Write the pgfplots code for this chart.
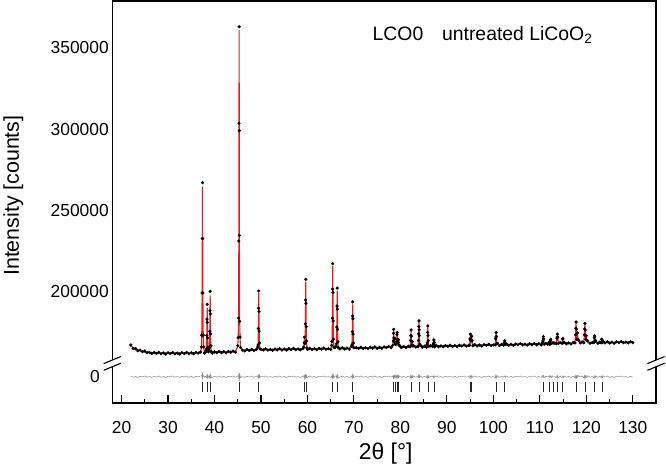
\documentclass[border=0pt]{standalone}
\usepackage{fontspec}
\setmainfont{Liberation Sans}
\usepackage{pgfplots}
\usepackage{pgfplotstable}
\pgfplotsset{compat=1.18}
\definecolor{calcred}{RGB}{222,32,28}
\definecolor{diffgray}{RGB}{140,140,140}

% x = 2theta, calc = calculated profile, diff = observed - calculated
\pgfplotstableread{
x calc diff
22.0 166500 450
22.5 165300 -380
23.0 164500 200
23.5 163900 -500
24.0 163400 350
24.5 163000 -150
25.0 162700 480
25.5 162500 -300
26.0 162300 100
26.5 162200 -450
27.0 162100 300
27.5 162050 -250
28.0 162000 450
28.5 161950 -380
29.0 161900 200
29.5 161850 -500
30.0 161800 350
30.5 161800 -150
31.0 161800 480
31.5 161800 -300
32.0 161850 100
32.5 161850 -450
33.0 161900 300
33.5 161900 -250
34.0 161950 450
34.5 161950 -380
35.0 162000 200
35.5 162000 -500
36.0 162050 350
36.5 162100 -150
37.0 162150 480
37.18 165300 500
37.26 172400 600
37.34 198000 1000
37.38 233800 -1300
37.42 264500 2500
37.46 233800 -1300
37.50 198000 1000
37.58 172400 600
37.66 165300 500
37.85 162250 -300
38.0 162250 100
38.19 163130 470
38.27 165070 -470
38.35 172000 800
38.39 181700 1200
38.43 190000 2000
38.47 181700 -900
38.51 172000 -700
38.59 165070 530
38.67 163130 -430
38.83 163360 440
38.91 165820 -620
38.99 174620 780
39.03 186940 1060
39.07 197500 2500
39.11 186940 -840
39.15 174620 -820
39.23 165820 680
39.31 163360 -560
39.5 162350 -450
40.0 162400 300
40.5 162450 -250
41.0 162500 450
41.5 162550 -380
42.0 162600 200
42.5 162600 -500
43.0 162650 350
43.5 162700 -150
44.0 162700 480
44.5 162800 -300
45.00 166000 500
45.10 170900 600
45.18 182800 700
45.24 232300 -1300
45.27 301600 2000
45.30 361000 2000
45.33 301600 -2600
45.36 232300 2200
45.42 182800 -1300
45.50 170900 900
45.60 166000 -600
46.0 163700 100
46.5 163750 -450
47.0 163800 300
47.5 163800 -250
48.0 163850 450
48.5 163900 -380
49.0 163950 200
49.29 165050 550
49.37 167500 -600
49.45 176250 850
49.49 188500 1100
49.53 199000 1200
49.57 188500 -900
49.61 176250 -750
49.69 167500 700
49.77 165050 -550
50.0 164000 350
50.5 164050 -150
51.0 164050 480
51.5 164100 -300
52.0 164100 100
52.5 164150 -450
53.0 164150 300
53.5 164200 -250
54.0 164200 450
54.5 164250 -380
55.0 164250 200
55.5 164300 -500
56.0 164300 350
56.5 164300 -150
57.0 164350 480
57.5 164350 -300
58.0 164400 100
58.5 164400 -450
59.0 164400 300
59.20 165000 600
59.30 169000 -800
59.35 171000 800
59.42 168000 600
59.48 168600 -700
59.56 179000 1000
59.60 193500 1200
59.64 206000 1400
59.68 193500 -900
59.72 179000 -800
59.80 168600 700
59.88 165650 -550
60.0 164450 -250
60.5 164450 450
61.0 164500 -380
61.5 164500 200
62.0 164500 -500
62.5 164550 350
63.0 164550 -150
63.5 164600 480
64.0 164600 -300
64.5 164600 100
65.0 164650 -450
65.21 166200 500
65.29 169800 -700
65.37 182500 1000
65.41 200300 1100
65.45 215500 1500
65.49 200300 -1000
65.53 182500 -800
65.61 169800 700
65.69 166200 -600
65.90 165000 300
66.16 165800 500
66.24 168300 -600
66.32 177200 800
66.36 189800 1100
66.40 200500 1500
66.44 189800 -800
66.48 177200 -700
66.56 168300 600
66.64 165800 -500
67.0 164800 -250
67.5 164800 450
68.0 164850 -380
68.5 164850 200
69.0 164900 -500
69.50 165700 500
69.58 167600 -600
69.66 174400 800
69.70 183900 900
69.74 192000 1500
69.78 183900 -800
69.82 174400 -700
69.90 167600 600
69.98 165700 -500
70.5 164950 350
71.0 165000 -150
71.5 165050 480
72.0 165100 -300
72.5 165150 100
73.0 165200 -450
73.5 165200 300
74.0 165250 -250
74.5 165300 450
75.0 165300 -380
75.5 165350 200
76.0 165400 -500
76.5 165450 350
77.0 165500 -150
77.5 165550 480
78.0 165600 -300
78.35 166300 500
78.45 170000 -600
78.51 173500 700
78.55 176000 600
78.60 172000 -700
78.68 168500 600
78.80 169000 -600
78.85 170000 700
78.92 168000 -600
79.05 167000 600
79.20 169500 -600
79.26 172500 800
79.30 174000 600
79.35 171000 -700
79.45 168000 700
79.55 169000 -500
79.60 169500 700
79.68 167500 -500
79.85 166000 450
80.2 165750 -380
80.7 165800 200
81.2 165800 -500
81.7 165850 350
82.10 166400 -600
82.20 169000 700
82.26 173500 -700
82.30 175500 700
82.35 171500 700
82.45 167500 -600
82.58 168300 700
82.65 167000 -600
82.85 166000 480
83.3 166000 -300
83.7 166000 100
83.80 166500 -500
83.88 169000 700
83.94 174500 -700
83.97 177500 800
84.00 181000 800
84.03 177000 -700
84.07 172000 700
84.15 168000 -600
84.30 166300 450
84.7 166000 -380
85.2 166050 200
85.6 166050 -500
85.72 166600 500
85.80 169000 -600
85.86 174000 700
85.90 178000 700
85.94 173500 -700
86.00 169000 600
86.12 166700 -600
86.5 166100 350
86.9 166150 -150
87.08 166800 500
87.16 168500 -600
87.20 169500 500
87.26 168000 600
87.38 166400 -600
87.7 166200 480
88.2 166200 -300
88.7 166250 100
89.2 166300 -450
89.7 166300 300
90.2 166350 -250
90.7 166350 450
91.2 166400 -380
91.7 166400 200
92.2 166450 -500
92.7 166450 350
93.2 166500 -150
93.7 166500 480
94.2 166550 -300
94.7 166600 100
94.90 167300 -600
94.98 170000 700
95.05 173000 600
95.12 170500 -600
95.20 169000 600
95.28 170500 -600
95.35 171800 500
95.43 169000 600
95.60 167000 -600
96.0 166700 450
96.5 166700 -380
97.0 166750 200
97.5 166800 -500
98.0 166800 350
98.5 166850 -150
99.0 166850 480
99.5 166900 -300
100.0 166900 100
100.40 167600 -600
100.50 170000 700
100.56 172500 -700
100.60 174000 600
100.65 171500 700
100.75 168500 -600
100.90 167300 600
101.3 167000 -450
101.8 167050 300
102.2 167100 -250
102.35 167800 500
102.45 169000 500
102.55 167800 -600
102.8 167100 450
103.3 167150 -380
103.8 167150 200
104.3 167200 -500
104.8 167200 350
105.3 167250 -150
105.8 167300 480
106.3 167300 -300
106.8 167350 100
107.3 167350 -450
107.8 167400 300
108.3 167400 -250
108.8 167450 450
109.3 167450 -380
109.8 167500 200
110.3 167500 -500
110.60 168000 600
110.70 170500 -600
110.75 171500 600
110.82 170000 700
110.95 168000 -600
111.3 167600 350
111.7 167600 -150
112.00 168000 600
112.15 167900 -600
112.28 169000 700
112.35 170000 500
112.45 168500 -600
112.70 167800 480
112.95 168500 -300
113.20 168000 100
113.55 168300 -600
113.68 170500 700
113.76 172500 -600
113.80 173000 600
113.86 171000 700
114.00 168500 -600
114.4 168000 450
114.80 168500 -600
114.90 170000 600
114.95 170500 500
115.05 169000 -600
115.25 168100 450
115.7 168000 -380
116.2 168050 200
116.7 168100 -500
117.2 168100 350
117.55 168800 -600
117.68 172500 700
117.75 178000 -700
117.80 180500 600
117.86 176000 700
117.94 171000 -600
118.05 173500 700
118.10 174000 500
118.18 171000 -600
118.35 169000 700
118.7 168300 -150
119.1 168350 480
119.45 169000 -600
119.58 172500 700
119.65 177500 -700
119.70 179500 700
119.76 175500 700
119.85 171000 -600
119.98 172000 600
120.08 170500 -600
120.30 168800 600
120.8 168300 -300
121.3 168350 100
121.62 169000 -600
121.72 170800 600
121.80 172000 500
121.88 170500 -600
122.05 168700 600
122.5 168400 -450
122.9 168400 300
123.20 168900 -600
123.30 169800 600
123.35 170000 500
123.45 169000 -600
123.65 168500 600
124.0 168450 -250
124.5 168450 450
125.0 168500 -380
125.5 168500 200
126.0 168500 -500
126.5 168550 350
127.0 168550 -150
127.5 168600 480
128.0 168600 -300
128.5 168600 100
129.0 168650 -450
129.5 168650 300
130.0 168650 -250
}\data

\pgfplotstableread{
x y
37.42 141010
38.43 141010
39.07 141010
45.30 141010
49.53 141010
59.40 141010
59.70 141010
65.45 141010
66.40 141010
69.74 141010
78.45 141010
78.80 141010
79.25 141010
79.55 141010
82.30 141010
84.00 141010
85.90 141010
87.20 141010
95.05 141010
95.35 141010
100.60 141010
102.45 141010
110.70 141010
112.00 141010
112.95 141010
113.75 141010
113.85 141010
114.90 141010
117.80 141010
119.70 141010
121.80 141010
123.35 141010
}\bragg

\begin{document}
\begin{tikzpicture}
\path (-111bp,-69bp) rectangle (555bp,404bp);
\begin{axis}[
  at={(0,0)}, anchor=south west,
  scale only axis, width=545bp, height=403bp,
  xmin=18, xmax=135, ymin=131140, ymax=378900,
  axis line style={line width=1.2bp},
  scaled y ticks=false,
  xtick={20,30,...,130}, minor xtick={25,35,...,125},
  xtick pos=left, ytick pos=left,
  tick align=inside,
  major tick length=8bp, minor tick length=4bp,
  every tick/.style={black, line width=1.1bp},
  ytick={200000,250000,300000,350000},
  yticklabels={200000,250000,300000,350000},
  extra y ticks={147400}, extra y tick labels={0},
  extra y tick style={yticklabel style={xshift=-9bp}},
  ytick style={draw=none},
  tick label style={font=\fontsize{17.5}{20}\selectfont},
  xticklabel style={yshift=-15bp},
  /pgf/number format/assume math mode=true,
  xlabel={2θ [°]}, ylabel={Intensity [counts]},
  xlabel style={font=\fontsize{23}{27}\selectfont, at={(axis description cs:0.503,-0.1266)}, anchor=center},
  ylabel style={font=\fontsize{21.5}{25}\selectfont, at={(axis description cs:-0.182,0.516)}, anchor=center},
]
\addplot[only marks, mark=*, mark size=1.4bp, black] table[x=x, y expr=\thisrow{calc}+\thisrow{diff}]{\data};
\addplot[calcred, line width=1.1bp] table[x=x, y=calc]{\data};
\addplot[diffgray, line width=0.5bp] table[x=x, y expr=\thisrow{diff}+147400]{\data};
\addplot[only marks, mark=|, mark size=4.6bp, black!85, line width=0.6bp] table[x=x, y=y]{\bragg};
\coordinate (BL) at (axis cs:18,155580);
\coordinate (BR) at (axis cs:135,155580);
\node[anchor=base west, font=\fontsize{19.5}{22}\selectfont, inner sep=0pt] at (axis cs:74.0,354500) {LCO0\hspace{18.8bp}untreated LiCoO\textsubscript{2}};
\end{axis}
\foreach \c in {BL,BR}{
  \fill[white] ([shift={(-2.5bp,-3.2bp)}]\c) rectangle ([shift={(2.5bp,3.2bp)}]\c);
  \draw[line width=1.1bp] ([shift={(-8.6bp,-0.2bp)}]\c) -- ([shift={(8.6bp,6.9bp)}]\c);
  \draw[line width=1.1bp] ([shift={(-8.6bp,-6.9bp)}]\c) -- ([shift={(8.6bp,0.2bp)}]\c);
}
\end{tikzpicture}
\end{document}
